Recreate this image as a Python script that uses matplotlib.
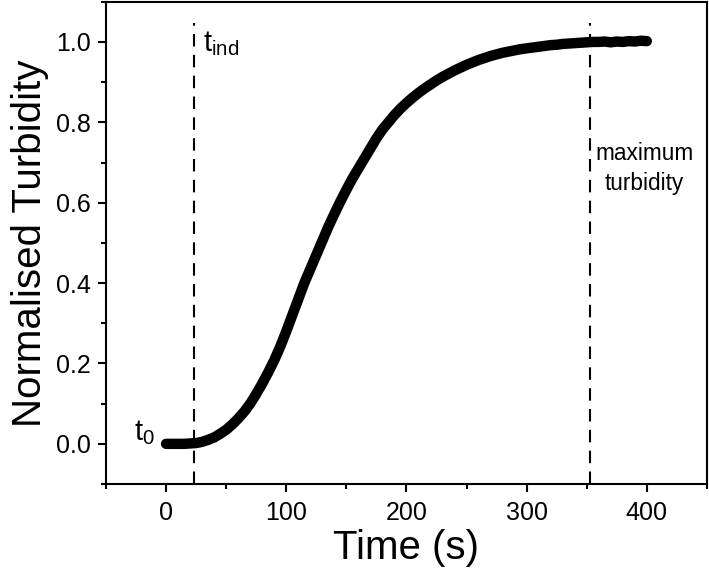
import matplotlib
matplotlib.use("Agg")
import matplotlib.pyplot as plt
from matplotlib.ticker import MultipleLocator

plt.rcParams['font.family'] = ['Liberation Sans', 'DejaVu Sans']
plt.rcParams['mathtext.fontset'] = 'custom'
plt.rcParams['mathtext.rm'] = 'Liberation Sans'
plt.rcParams['mathtext.it'] = 'Liberation Sans'

# Data
time_s = [0, 5, 10, 15, 20, 25, 30, 35, 40, 45, 50, 55, 60, 65, 70, 75, 80, 85,
          90, 95, 100, 105, 110, 115, 120, 125, 130, 135, 140, 145, 150, 155,
          160, 165, 170, 175, 180, 185, 190, 195, 200, 205, 210, 215, 220, 225,
          230, 235, 240, 245, 250, 255, 260, 265, 270, 275, 280, 285, 290, 295,
          300, 305, 310, 315, 320, 325, 330, 335, 340, 345, 350, 355, 360, 365,
          370, 375, 380, 385, 390, 395, 400]
turbidity = [0.0, 0.0, 0.0, 0.0, 0.001, 0.002, 0.005, 0.01, 0.016, 0.025, 0.035,
             0.048, 0.063, 0.08, 0.10, 0.124, 0.15, 0.178, 0.208, 0.242, 0.28,
             0.32, 0.36, 0.40, 0.435, 0.47, 0.505, 0.54, 0.572, 0.603, 0.632,
             0.66, 0.685, 0.71, 0.735, 0.76, 0.782, 0.80, 0.818, 0.834, 0.848,
             0.861, 0.873, 0.884, 0.894, 0.904, 0.913, 0.921, 0.929, 0.936,
             0.943, 0.949, 0.955, 0.96, 0.965, 0.969, 0.973, 0.976, 0.979, 0.982,
             0.984, 0.986, 0.988, 0.99, 0.992, 0.993, 0.995, 0.996, 0.997, 0.998,
             0.999, 1.0, 1.0, 1.001, 0.999, 1.001, 1.0, 1.002, 1.001, 1.003, 1.002]
t_ind = 23
t_max = 353
xticks = [0, 100, 200, 300, 400]
yticks = [0.0, 0.2, 0.4, 0.6, 0.8, 1.0]

fig = plt.figure(figsize=(7.09, 5.79), dpi=100)
ax = fig.add_axes([0.1495, 0.164, 0.8475, 0.833])

ax.plot(time_s, turbidity, color='black', lw=7.5, solid_capstyle='round',
        solid_joinstyle='round', zorder=3)

for xv in (t_ind, t_max):
    ax.vlines(xv, -0.1, 1.047, colors='black', linestyles=(0, (6, 4)), lw=1.5, zorder=2)

ax.set_xlim(-50, 450)
ax.set_ylim(-0.1, 1.1)
ax.set_xticks(xticks)
ax.set_yticks(yticks)
ax.set_xticklabels([str(v) for v in xticks])
ax.set_yticklabels([f"{v:.1f}" for v in yticks])
ax.xaxis.set_minor_locator(MultipleLocator(50))
ax.yaxis.set_minor_locator(MultipleLocator(0.1))

for s in ax.spines.values():
    s.set_linewidth(1.5)
ax.tick_params(which='major', direction='out', length=6, width=1.5, labelsize=18,
               top=False, right=False)
ax.tick_params(axis='y', which='major', pad=5)
ax.tick_params(axis='x', which='major', pad=6)
ax.tick_params(which='minor', direction='out', length=3.5, width=1.5, top=False, right=False)

ax.set_xlabel('Time (s)', fontsize=29, labelpad=3)
ax.set_ylabel('Normalised Turbidity', fontsize=29, labelpad=5)

ax.text(31, 0.977, r'$\mathrm{t_{ind}}$', fontsize=21, ha='left', va='baseline')
ax.text(-27, 0.01, r'$\mathrm{t_{0}}$', fontsize=21, ha='left', va='baseline')
ax.text(398, 0.685, 'maximum\nturbidity', fontsize=16.3, ha='center', va='center',
        linespacing=1.35)

fig.savefig('out.png', dpi=100)
